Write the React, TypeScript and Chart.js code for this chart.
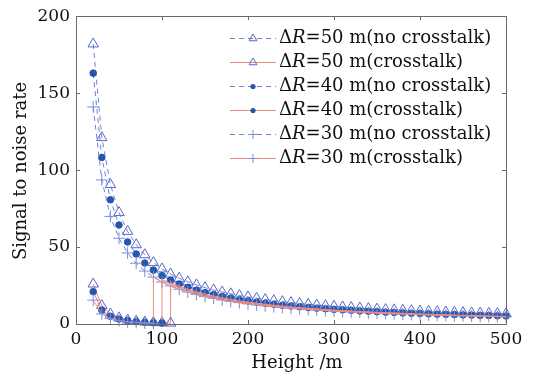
import React, { useEffect, useRef } from "react";
import { Chart, registerables } from "chart.js";
Chart.register(...registerables);

// Heights (m) for the no-crosstalk series
const heights = [20, 30, 40, 50, 60, 70, 80, 90, 100, 110, 120, 130, 140, 150, 160, 170, 180, 190, 200, 210, 220, 230, 240, 250, 260, 270, 280, 290, 300, 310, 320, 330, 340, 350, 360, 370, 380, 390, 400, 410, 420, 430, 440, 450, 460, 470, 480, 490, 500];

// ΔR=50 m (no crosstalk)
const snr50 = [182, 121.1, 90.6, 72.4, 60.2, 51.5, 45.0, 39.9, 35.8, 32.5, 29.7, 27.4, 25.4, 23.6, 22.1, 20.8, 19.6, 18.5, 17.6, 16.7, 15.9, 15.2, 14.5, 13.9, 13.3, 12.8, 12.3, 11.9, 11.5, 11.1, 10.7, 10.4, 10.0, 9.7, 9.4, 9.2, 8.9, 8.7, 8.4, 8.2, 8.0, 7.8, 7.6, 7.4, 7.2, 7.1, 6.9, 6.8, 6.6];
// ΔR=40 m (no crosstalk)
const snr40 = [163, 108.2, 80.7, 64.3, 53.3, 45.5, 39.6, 35.0, 31.4, 28.4, 25.9, 23.8, 22.0, 20.4, 19.1, 17.9, 16.8, 15.8, 15.0, 14.2, 13.5, 12.8, 12.2, 11.7, 11.2, 10.7, 10.3, 9.9, 9.5, 9.2, 8.9, 8.5, 8.3, 8.0, 7.7, 7.5, 7.2, 7.0, 6.8, 6.6, 6.4, 6.3, 6.1, 5.9, 5.8, 5.6, 5.5, 5.3, 5.2];
// ΔR=30 m (no crosstalk)
const snr30 = [141, 93.6, 69.9, 55.7, 46.2, 39.5, 34.4, 30.5, 27.3, 24.7, 22.6, 20.8, 19.2, 17.8, 16.7, 15.6, 14.7, 13.9, 13.1, 12.4, 11.8, 11.3, 10.8, 10.3, 9.9, 9.4, 9.1, 8.7, 8.4, 8.1, 7.8, 7.6, 7.3, 7.1, 6.8, 6.6, 6.4, 6.2, 6.1, 5.9, 5.7, 5.6, 5.4, 5.3, 5.1, 5.0, 4.9, 4.8, 4.7];

// Crosstalk: low (marked) part
const xtLowH50 = [20, 30, 40, 50, 60, 70, 80, 90, 100, 110];
const xtLow50 = [26, 12, 6.5, 4, 2.6, 1.8, 1.3, 1.0, 0.8, 0.6];
const xtLowH40 = [20, 30, 40, 50, 60, 70, 80, 90, 100];
const xtLow40 = [21, 9, 5, 3.2, 2.2, 1.5, 1.1, 0.8, 0.6];
const xtLowH30 = [20, 30, 40, 50, 60, 70, 80, 90];
const xtLow30 = [15.5, 6.5, 3.5, 2.2, 1.4, 1.0, 0.7, 0.5];

// Crosstalk: high (unmarked) part after the jump
const xtHighH50 = [110, 120, 130, 140, 150, 170, 190, 220, 250, 300, 350, 400, 450, 500];
const xtHigh50 = [27.0, 24.6, 22.6, 20.9, 19.4, 17.0, 15.0, 12.8, 11.1, 9.0, 7.6, 6.5, 5.6, 4.9];
const xtHighH40 = [100, 110, 120, 130, 140, 150, 170, 190, 220, 250, 300, 350, 400, 450, 500];
const xtHigh40 = [29.0, 26.2, 23.9, 21.9, 20.3, 18.8, 16.5, 14.6, 12.4, 10.8, 8.8, 7.4, 6.3, 5.4, 4.8];
const xtHighH30 = [90, 100, 110, 120, 130, 140, 150, 170, 190, 220, 250, 300, 350, 400, 450, 500];
const xtHigh30 = [30.5, 27.3, 24.7, 22.6, 20.8, 19.2, 17.8, 15.6, 13.9, 11.8, 10.3, 8.4, 7.1, 6.1, 5.3, 4.7];

const xTicks = [0, 100, 200, 300, 400, 500];
const yTicks = [0, 50, 100, 150, 200];

const legendLabels = [
  ["50", "no crosstalk"],
  ["50", "crosstalk"],
  ["40", "no crosstalk"],
  ["40", "crosstalk"],
  ["30", "no crosstalk"],
  ["30", "crosstalk"],
];

const FONT = '"DejaVu Serif", serif';
const DASH_COLOR = "#7181d2";
const RED = "#f08a7a";
const TRI_COLOR = "#5568c8";
const DOT_COLOR = "#2457ad";
const PLUS_COLOR = "#7d8ddb";

const pts = (xs: number[], ys: number[]) => xs.map((x, i) => ({ x, y: ys[i] }));

type Marker = { style: string; radius: number; color: string; fill: string };
const markers: Marker[] = [
  { style: "triangle", radius: 6, color: TRI_COLOR, fill: "rgba(255,255,255,0)" },
  { style: "circle", radius: 3.3, color: DOT_COLOR, fill: DOT_COLOR },
  { style: "cross", radius: 6, color: PLUS_COLOR, fill: PLUS_COLOR },
];

function drawMarker(ctx: CanvasRenderingContext2D, style: string, x: number, y: number, r: number) {
  ctx.beginPath();
  if (style === "triangle") {
    let rad = 0;
    ctx.moveTo(x + Math.sin(rad) * r, y - Math.cos(rad) * r);
    rad += (2 * Math.PI) / 3;
    ctx.lineTo(x + Math.sin(rad) * r, y - Math.cos(rad) * r);
    rad += (2 * Math.PI) / 3;
    ctx.lineTo(x + Math.sin(rad) * r, y - Math.cos(rad) * r);
    ctx.closePath();
    ctx.stroke();
  } else if (style === "circle") {
    ctx.arc(x, y, r, 0, Math.PI * 2);
    ctx.fill();
  } else {
    ctx.moveTo(x - r, y);
    ctx.lineTo(x + r, y);
    ctx.moveTo(x, y - r);
    ctx.lineTo(x, y + r);
    ctx.stroke();
  }
}

const legendPlugin = {
  id: "frameAndLegend",
  afterDraw(chart: any) {
    const { ctx, chartArea } = chart;
    const { left, right, top, bottom } = chartArea;
    const xs = chart.scales.x;
    const ys = chart.scales.y;
    ctx.save();
    // frame
    ctx.strokeStyle = "#6a6a6a";
    ctx.lineWidth = 1;
    ctx.setLineDash([]);
    ctx.strokeRect(Math.round(left) + 0.5, Math.round(top) + 0.5, Math.round(right - left), Math.round(bottom - top));
    // inward ticks
    ctx.beginPath();
    xTicks.slice(1, -1).forEach((v) => {
      const px = Math.round(xs.getPixelForValue(v)) + 0.5;
      ctx.moveTo(px, bottom);
      ctx.lineTo(px, bottom - 4);
      ctx.moveTo(px, top);
      ctx.lineTo(px, top + 4);
    });
    yTicks.slice(1, -1).forEach((v) => {
      const py = Math.round(ys.getPixelForValue(v)) + 0.5;
      ctx.moveTo(left, py);
      ctx.lineTo(left + 4, py);
      ctx.moveTo(right, py);
      ctx.lineTo(right - 4, py);
    });
    ctx.stroke();

    // axis titles
    ctx.fillStyle = "#111";
    ctx.font = `18px ${FONT}`;
    ctx.textAlign = "center";
    ctx.textBaseline = "middle";
    ctx.fillText("Height /m", 297, 363);
    ctx.save();
    ctx.translate(21, 171);
    ctx.rotate(-Math.PI / 2);
    ctx.fillText("Signal to noise rate", 0, 0);
    ctx.restore();

    // legend
    const lx0 = 230;
    const lx1 = 276;
    const textX = 279;
    legendLabels.forEach((lab, i) => {
      const y = 38 + i * 24;
      const cross = i % 2 === 1;
      const m = markers[Math.floor(i / 2)];
      ctx.save();
      ctx.lineWidth = 1;
      ctx.strokeStyle = cross ? RED : DASH_COLOR;
      ctx.setLineDash(cross ? [] : [5, 4]);
      ctx.beginPath();
      ctx.moveTo(lx0, y + 0.5);
      ctx.lineTo(lx1, y + 0.5);
      ctx.stroke();
      ctx.setLineDash([]);
      ctx.strokeStyle = m.color;
      ctx.fillStyle = m.fill;
      const cx = (lx0 + lx1) / 2;
      const r = m.style === "circle" ? 2.6 : 4.5;
      drawMarker(ctx, m.style, cx, y + 0.5, r);
      ctx.restore();

      // text
      ctx.fillStyle = "#111";
      ctx.textAlign = "left";
      ctx.textBaseline = "middle";
      let x = textX;
      ctx.font = `18px ${FONT}`;
      ctx.fillText("Δ", x, y);
      x += ctx.measureText("Δ").width;
      ctx.font = `italic 18px ${FONT}`;
      ctx.fillText("R", x, y);
      x += ctx.measureText("R").width;
      ctx.font = `18px ${FONT}`;
      ctx.fillText(`=${lab[0]} m(${lab[1]})`, x, y);
    });
    ctx.restore();
  },
};

export default function App() {
  const ref = useRef<HTMLCanvasElement | null>(null);
  useEffect(() => {
    document.body.style.margin = "0";
    document.body.style.background = "#ffffff";
    const canvas = ref.current;
    if (!canvas) return;

    const noXt = (ys: number[], m: Marker, label: string) => ({
      label,
      data: pts(heights, ys),
      borderColor: DASH_COLOR,
      borderWidth: 1,
      borderDash: [5, 4],
      pointStyle: m.style,
      pointRadius: m.radius,
      pointBorderColor: m.color,
      pointBackgroundColor: m.fill,
      pointBorderWidth: 1,
      tension: 0,
      fill: false,
      clip: 10,
    });
    const xt = (lh: number[], lv: number[], hh: number[], hv: number[], m: Marker, label: string) => {
      const nLow = lh.length;
      return {
        label,
        data: [...pts(lh, lv), ...pts(hh, hv)],
        borderColor: RED,
        borderWidth: 1,
        pointStyle: m.style,
        pointRadius: (c: any) => (c.dataIndex < nLow ? m.radius : 0),
        pointBorderColor: m.color,
        pointBackgroundColor: m.fill,
        pointBorderWidth: 1,
        tension: 0,
        fill: false,
        clip: 10,
      };
    };

    const chart = new Chart(canvas, {
      type: "line",
      data: {
        datasets: [
          xt(xtLowH30, xtLow30, xtHighH30, xtHigh30, markers[2], "ΔR=30 m(crosstalk)"),
          xt(xtLowH40, xtLow40, xtHighH40, xtHigh40, markers[1], "ΔR=40 m(crosstalk)"),
          xt(xtLowH50, xtLow50, xtHighH50, xtHigh50, markers[0], "ΔR=50 m(crosstalk)"),
          noXt(snr30, markers[2], "ΔR=30 m(no crosstalk)"),
          noXt(snr40, markers[1], "ΔR=40 m(no crosstalk)"),
          noXt(snr50, markers[0], "ΔR=50 m(no crosstalk)"),
        ] as any,
      },
      options: {
        responsive: false,
        animation: false,
        layout: { padding: { top: 14, right: 39, left: 0, bottom: 0 } },
        plugins: { legend: { display: false }, tooltip: { enabled: false } },
        scales: {
          x: {
            type: "linear",
            min: 0,
            max: 500,
            afterBuildTicks: (s: any) => {
              s.ticks = xTicks.map((v) => ({ value: v }));
            },
            ticks: { font: { family: FONT, size: 17 }, color: "#111", padding: 5, maxRotation: 0 },
            grid: { display: false, drawTicks: false },
            border: { display: false },
            afterFit: (s: any) => {
              s.height = 49;
            },
          },
          y: {
            type: "linear",
            min: 0,
            max: 200,
            afterBuildTicks: (s: any) => {
              s.ticks = yTicks.map((v) => ({ value: v }));
            },
            ticks: { font: { family: FONT, size: 17 }, color: "#111", padding: 6 },
            grid: { display: false, drawTicks: false },
            border: { display: false },
            afterFit: (s: any) => {
              s.width = 76;
            },
          },
        },
      } as any,
      plugins: [legendPlugin],
    });
    return () => chart.destroy();
  }, []);

  return (
    <div style={{ position: "fixed", left: 0, top: 0, width: 545, height: 373, background: "#fff" }}>
      <canvas ref={ref} width={545} height={373} style={{ width: 545, height: 373, display: "block" }} />
    </div>
  );
}
